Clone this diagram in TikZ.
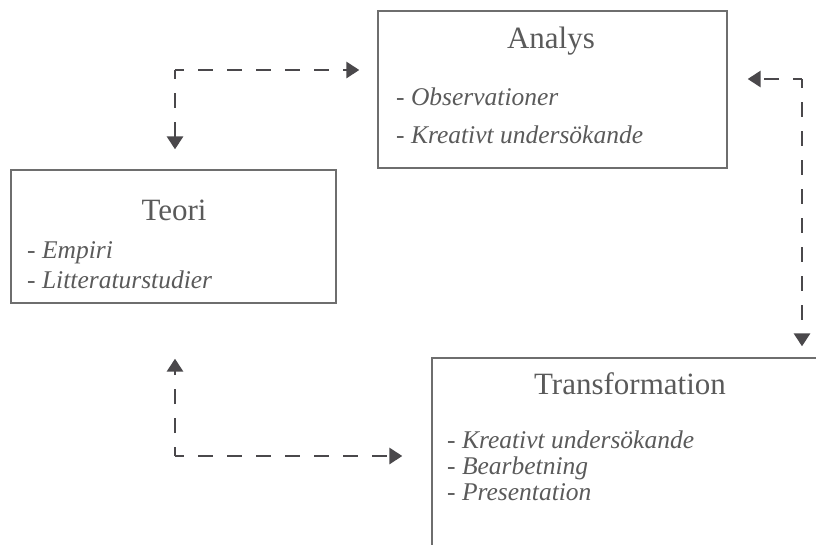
\documentclass[tikz,border=0pt]{standalone}
\usepackage{fontspec}
\setmainfont{Liberation Serif}
\usetikzlibrary{arrows.meta}
\definecolor{boxgray}{HTML}{6E6E6E}
\definecolor{textgray}{HTML}{5A5A5A}
\definecolor{arrowgray}{HTML}{4A484B}
\tikzset{block/.style = {draw=boxgray, line width=1.3pt, rectangle, inner sep=0}}
\tikzset{title/.style = {text=textgray, font=\fontsize{31}{36}\selectfont, anchor=base, inner sep=0}}
\tikzset{item/.style = {text=textgray, font=\fontsize{25.5}{30}\selectfont\itshape, anchor=base west, inner sep=0}}
\tikzset{link/.style = {arrowgray, line width=2.9pt, dash pattern=on 15pt off 14pt, dash phase=6pt,
                        -{Triangle[width=16pt,length=13pt]}}}

\begin{document}
\begin{tikzpicture}[x=1pt, y=-1pt]
      \useasboundingbox (0, 0) rectangle (816, 544);
      \clip (0, 0) rectangle (816, 544);

      \node [block, minimum width=349, minimum height=157] (analys) at (552.5, 89.5) {};
      \node [block, minimum width=325, minimum height=133] (teori) at (173.5, 236.5) {};
      \node [block, minimum width=400, minimum height=200] (transf) at (632, 458) {};

      \node [title] (analysT) at (551, 48) {Analys};
      \node [item] (analys1) at (396, 105) {- Observationer};
      \node [item] (analys2) at (396, 143) {- Kreativt undersökande};

      \node [title] (teoriT) at (174, 220) {Teori};
      \node [item] (teori1) at (27, 258) {- Empiri};
      \node [item] (teori2) at (27, 288) {- Litteraturstudier};

      \node [title] (transfT) at (630, 394) {Transformation};
      \node [item] (transf1) at (447, 448) {- Kreativt undersökande};
      \node [item] (transf2) at (447, 474) {- Bearbetning};
      \node [item] (transf3) at (447, 500) {- Presentation};

      \coordinate (tl) at (175, 70);
      \coordinate (tr) at (802, 79);
      \coordinate (bl) at (175, 456);

      \draw [link] (tl) -- ([yshift=20pt]tl |- teori.north);
      \draw [link] (tl) -- ([xshift=-18pt]analys.west |- tl);
      \draw [link] (tr) -- ([xshift=20pt]analys.east |- tr);
      \draw [link] (tr) -- ([yshift=11pt]tr |- transf.north);
      \draw [link] (bl) -- ([yshift=-55pt]bl |- teori.south);
      \draw [link] (bl) -- ([xshift=-29pt]transf.west |- bl);
    \end{tikzpicture}
\end{document}
